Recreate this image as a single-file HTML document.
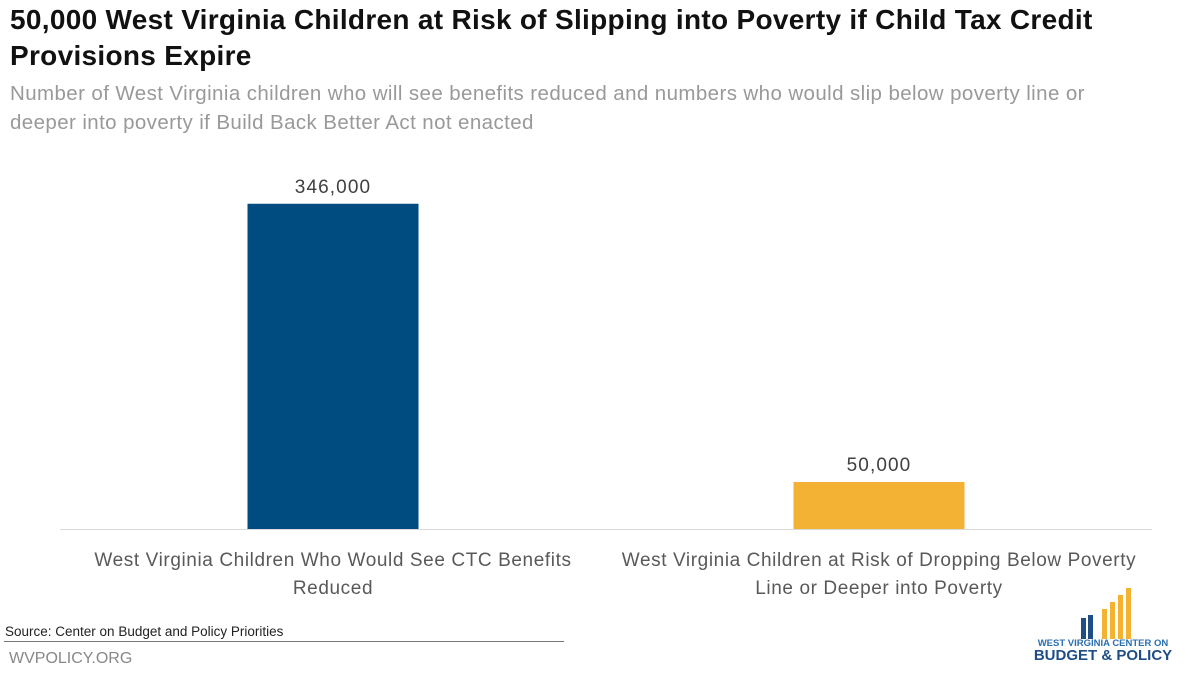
<!DOCTYPE html>
<html><head><meta charset="utf-8"><style>
body{margin:0;width:1200px;height:675px;background:#fff;font-family:"Liberation Sans",sans-serif;overflow:hidden;position:relative}
.t{position:absolute;left:10px;top:2px;font-size:28px;font-weight:bold;color:#111;line-height:36px;width:1165px;letter-spacing:0.3px}
.s{position:absolute;left:10px;top:79px;font-size:20.5px;color:#999;line-height:29px;width:1140px;letter-spacing:0.4px}
</style></head><body>
<div class="t">50,000 West Virginia Children at Risk of Slipping into Poverty if Child Tax Credit Provisions Expire</div>
<div class="s">Number of West Virginia children who will see benefits reduced and numbers who would slip below poverty line or deeper into poverty if Build Back Better Act not enacted</div>
<svg id="c" width="1200" height="675" style="position:absolute;left:0;top:0"></svg>
<div style="position:absolute;left:5px;top:624px;font-size:13.5px;color:#222">Source: Center on Budget and Policy Priorities</div>
<div style="position:absolute;left:4px;top:641px;width:560px;border-top:1px solid #777"></div>
<div style="position:absolute;left:9px;top:650px;font-size:16px;color:#888">WVPOLICY.ORG</div>
<svg width="200" height="95" style="position:absolute;left:1000px;top:580px">
<rect x="81" y="38" width="5" height="21" fill="#1f4e86"/><rect x="88" y="35" width="5" height="24" fill="#1f4e86"/>
<rect x="102" y="29" width="5" height="30" fill="#f3b330"/><rect x="110" y="22" width="5" height="37" fill="#f3b330"/><rect x="118" y="15" width="5" height="44" fill="#f3b330"/><rect x="126" y="8" width="5" height="51" fill="#f3b330"/>
<text x="103" y="66" text-anchor="middle" font-size="9.5" font-weight="bold" fill="#2a6fb0">WEST VIRGINIA CENTER ON</text>
<text x="103" y="80" text-anchor="middle" font-size="15" font-weight="bold" fill="#1f4e86">BUDGET &amp; POLICY</text>
</svg>
<script>
const categories=["West Virginia Children Who Would See CTC Benefits|Reduced","West Virginia Children at Risk of Dropping Below Poverty|Line or Deeper into Poverty"];
const values=[346000,50000];
const labels=["346,000","50,000"];
const colors=["#004b80","#f3b233"];
const svg=document.getElementById('c');const NS='http://www.w3.org/2000/svg';
const base=529,top_=153,maxV=400000,left=60,right=1152;
const y=v=>base-(v/maxV)*(base-top_);
const band=(right-left)/categories.length;
const xc=i=>left+band*(i+0.5);
const bw=171;
function mk(t,a){const e=document.createElementNS(NS,t);for(const k in a)e.setAttribute(k,a[k]);svg.appendChild(e);return e;}
const ax=mk('line',{x1:left,x2:right,y1:base+0.5,y2:base+0.5,stroke:'#d9d9d9','stroke-width':1});


values.forEach((v,i)=>{
 const r=mk('rect',{x:xc(i)-bw/2,y:y(v),width:bw,height:base-y(v),fill:colors[i]});
 
 
 const t=mk('text',{x:xc(i),y:y(v)-11,'text-anchor':'middle','font-size':19,'letter-spacing':1.1,fill:'#404040'});t.textContent=labels[i];
 
 
 categories[i].split('|').forEach((ln,j)=>{
  const c=mk('text',{x:xc(i),y:566+j*28,'text-anchor':'middle','font-size':19,'letter-spacing':0.6,fill:'#595959'});c.textContent=ln;
  
  
 });
});
</script>
</body></html>
